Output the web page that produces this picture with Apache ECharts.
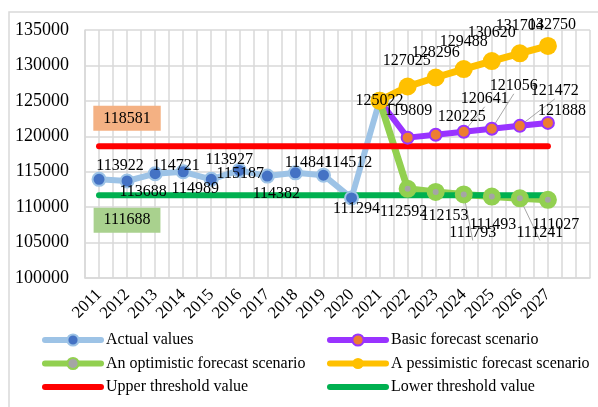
<!DOCTYPE html>
<html>
<head>
<meta charset="utf-8">
<script src="https://cdn.jsdelivr.net/npm/echarts@6/dist/echarts.min.js"></script>
<style>
html,body{margin:0;padding:0;background:#fff;}
#chart{width:598px;height:407px;}
</style>
</head>
<body>
<div id="chart"></div>
<script>
// ---- DATA ----
const years = ['2011','2012','2013','2014','2015','2016','2017','2018','2019','2020','2021','2022','2023','2024','2025','2026','2027'];
const actualValues = [113922,113688,114721,114989,113927,115187,114382,114841,114512,111294,125022];
const forecastYears = ['2021','2022','2023','2024','2025','2026','2027'];
const basicValues = [125022,119809,120225,120641,121056,121472,121888];
const optimisticValues = [125022,112592,112153,111793,111493,111241,111027];
const pessimisticValues = [125022,127025,128296,129488,130620,131704,132750];
const upperThreshold = 118581;
const lowerThreshold = 111688;
const yMin = 100000, yMax = 135000, yStep = 5000;

// ---- LAYOUT (label offsets relative to their points) ----
const actualLabelOffsets = [[21,-14],[16,11],[21,-8],[12,17],[18,-20],[1,3],[9,18],[13,-10],[25,-12],[5,11],null];
const basicLabelOffsets = [null,[1,-27],[26,-18],[21,-33],[22,-43],[35,-35],[14,-12]];
const basicLeader = [false,false,false,true,true,true,false];
const optimisticLabelOffsets = [null,[-4,23],[9,24],[9,38],[1,28],[20,34],[8,25]];
const optimisticLeader = [false,false,false,true,false,true,false];
const pessimisticLabelOffsets = [[0,0],[-1,-26],[0,-25],[0,-27],[0,-28],[0,-28],[4,-21]];

const FONT = "'Times New Roman','Liberation Serif',serif";
const categories = years.concat(['']);
const minorCats = [];
for (let i = 0; i < categories.length * 2; i++) minorCats.push(String(i));

function buildSeriesData(xs, vals, offsets, leaders) {
  return vals.map(function (v, i) {
    const off = offsets[i];
    const item = { value: [xs[i], v] };
    if (!off) {
      item.label = { show: false };
    } else {
      item.label = { show: true, offset: off };
      if (leaders && leaders[i]) {
        item.labelLine = { show: true, lineStyle: { color: '#A6A6A6', width: 1 } };
      }
    }
    return item;
  });
}

const labelBase = {
  show: true, position: 'inside', color: '#000', fontSize: 16, fontFamily: FONT,
  textBorderWidth: 0, formatter: function (p) { return p.value[1]; }
};

const legendCommon = {
  orient: 'vertical', top: 332, padding: 0, itemWidth: 56, itemHeight: 14, itemGap: 7.5,
  lineStyle: { width: 6 },
  textStyle: { fontSize: 16, fontFamily: FONT, color: '#000', lineHeight: 16 }
};

const chart = echarts.init(document.getElementById('chart'), null, { renderer: 'canvas' });
const option = {
  backgroundColor: '#fff',
  animation: false,
  graphic: [{
    type: 'rect', silent: true, z: -10,
    shape: { x: 9, y: 12, width: 600, height: 400 },
    style: { fill: 'none', stroke: '#D9D9D9', lineWidth: 1.5 }
  }],
  grid: { left: 85, right: 8, top: 30, bottom: 129 },
  xAxis: [{
    type: 'category', data: categories, boundaryGap: true,
    axisLine: { show: true, lineStyle: { color: '#D9D9D9', width: 1.5 } },
    axisTick: { show: false },
    splitLine: { show: false },
    axisLabel: { rotate: 45, margin: 14, interval: 0, color: '#000', fontSize: 17, fontFamily: FONT }
  }, {
    type: 'category', data: minorCats, boundaryGap: true, position: 'top',
    axisLine: { show: false }, axisTick: { show: false }, axisLabel: { show: false },
    splitLine: { show: true, interval: 0, lineStyle: { color: '#D9D9D9', width: 1.5 } }
  }],
  yAxis: {
    type: 'value', min: yMin, max: yMax, interval: yStep,
    axisLine: { show: true, lineStyle: { color: '#D9D9D9', width: 1.5 } },
    axisTick: { show: false },
    axisLabel: { margin: 16, color: '#000', fontSize: 18, fontFamily: FONT,
      formatter: function (v) { return String(v); } },
    splitLine: { show: true, lineStyle: { color: '#D9D9D9', width: 1.5 } }
  },
  legend: [Object.assign({}, legendCommon, {
    left: 42,
    data: ['Actual values', 'An optimistic forecast scenario',
      { name: 'Upper threshold value', itemStyle: { opacity: 0 } }]
  }), Object.assign({}, legendCommon, {
    left: 327,
    data: ['Basic forecast scenario', 'A pessimistic forecast scenario',
      { name: 'Lower threshold value', itemStyle: { opacity: 0 } }]
  })],
  series: [{
    name: 'Actual values', type: 'line', xAxisIndex: 0,
    data: buildSeriesData(years, actualValues, actualLabelOffsets),
    symbol: 'circle', symbolSize: 13,
    lineStyle: { color: '#9DC3E6', width: 6, cap: 'round', join: 'round' },
    itemStyle: { color: '#4472C4', borderColor: '#9DC3E6', borderWidth: 2 },
    label: labelBase
  }, {
    name: 'Basic forecast scenario', type: 'line',
    data: buildSeriesData(forecastYears, basicValues, basicLabelOffsets, basicLeader),
    symbol: 'circle', symbolSize: 12,
    lineStyle: { color: '#9933FF', width: 6, cap: 'round', join: 'round' },
    itemStyle: { color: '#ED7D31', borderColor: '#9933FF', borderWidth: 2 },
    label: labelBase
  }, {
    name: 'An optimistic forecast scenario', type: 'line',
    data: buildSeriesData(forecastYears, optimisticValues, optimisticLabelOffsets, optimisticLeader),
    symbol: 'circle', symbolSize: 12,
    lineStyle: { color: '#92D050', width: 7, cap: 'round', join: 'round' },
    itemStyle: { color: '#A5A5A5', borderColor: '#92D050', borderWidth: 6 },
    label: labelBase
  }, {
    name: 'A pessimistic forecast scenario', type: 'line',
    data: buildSeriesData(forecastYears, pessimisticValues, pessimisticLabelOffsets),
    symbol: 'circle', symbolSize: 18,
    lineStyle: { color: '#FFC000', width: 7, cap: 'round', join: 'round' },
    itemStyle: { color: '#FFC000', borderColor: '#FFC000', borderWidth: 0 },
    label: labelBase
  }, {
    name: 'Upper threshold value', type: 'line', symbol: 'none',
    data: [[years[0], upperThreshold], [years[years.length - 1], upperThreshold]],
    lineStyle: { color: '#FF0000', width: 6, cap: 'round' },
    itemStyle: { color: '#FF0000' },
    markPoint: {
      symbol: 'circle', symbolSize: 0,
      data: [{ coord: [years[0], upperThreshold], value: upperThreshold }],
      label: {
        show: true, position: 'inside', offset: [28, -28], color: '#000', fontSize: 16, fontFamily: FONT,
        backgroundColor: '#F4B183', padding: [5, 10, 4, 10], formatter: '{c}'
      }
    }
  }, {
    name: 'Lower threshold value', type: 'line', symbol: 'none',
    data: [[years[0], lowerThreshold], [years[years.length - 1], lowerThreshold]],
    lineStyle: { color: '#00B050', width: 6, cap: 'round' },
    itemStyle: { color: '#00B050' },
    markPoint: {
      symbol: 'circle', symbolSize: 0,
      data: [{ coord: [years[0], lowerThreshold], value: lowerThreshold }],
      label: {
        show: true, position: 'inside', offset: [28, 25], color: '#000', fontSize: 16, fontFamily: FONT,
        backgroundColor: '#A9D18E', padding: [5, 10, 4, 10], formatter: '{c}'
      }
    }
  }]
};
chart.setOption(option);
</script>
</body>
</html>
